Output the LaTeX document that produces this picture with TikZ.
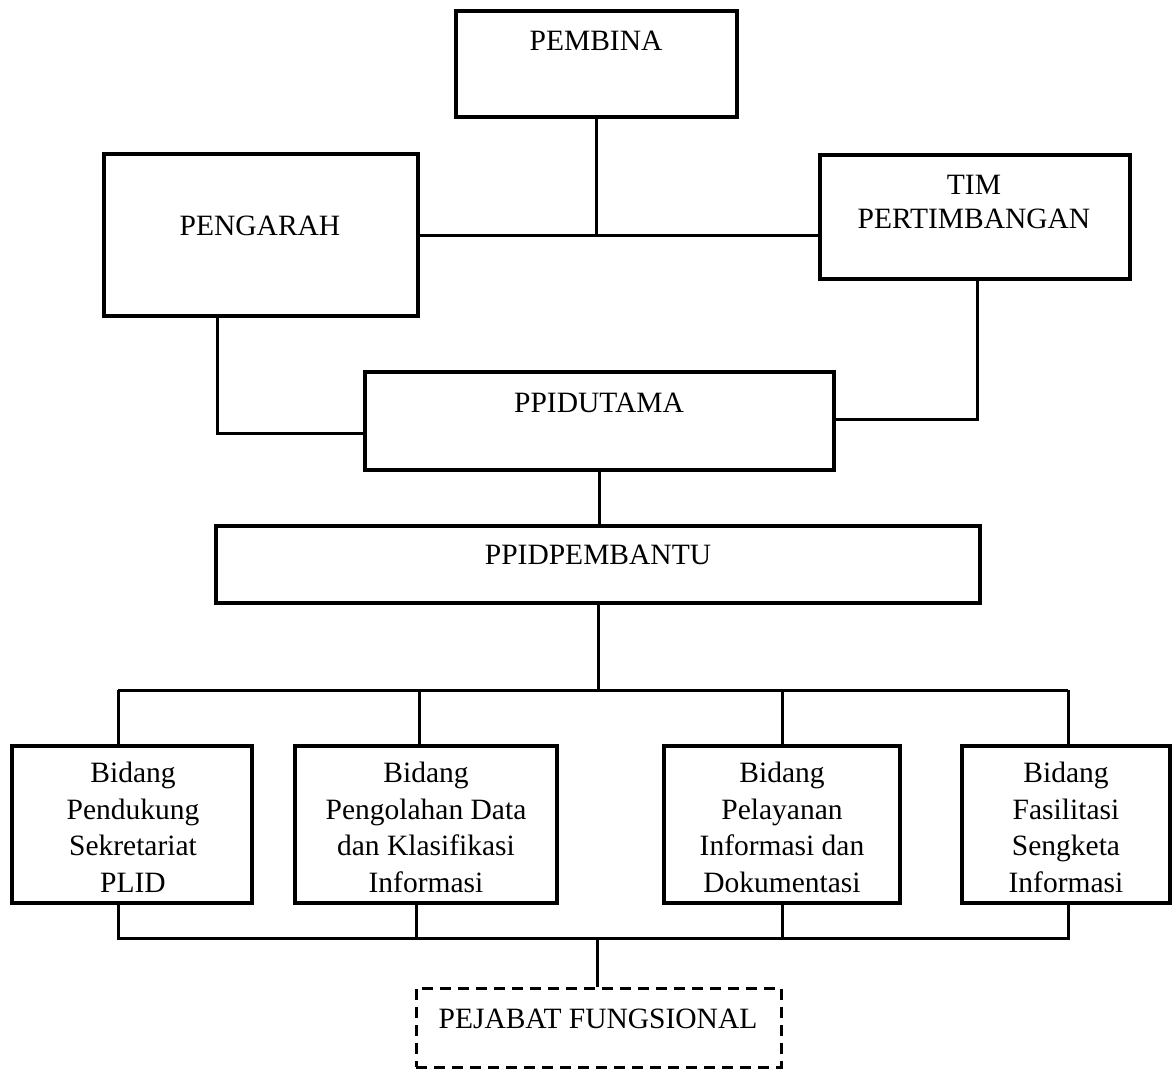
\documentclass[tikz,border=0pt]{standalone}
\usepackage{fontspec}
\setmainfont{Liberation Serif}
\begin{document}
\begin{tikzpicture}[x=1pt,y=-1pt,
  box/.style={draw,line width=3.4pt,rectangle,inner sep=0pt},
  dbox/.style={draw,line width=3pt,rectangle,inner sep=0pt,dash pattern=on 11pt off 7pt},
  txt/.style={anchor=base,inner sep=0pt,font=\fontsize{29.5}{36.5}\selectfont},
  mtxt/.style={anchor=north,inner sep=0pt,align=center,font=\fontsize{29.5}{36.5}\selectfont},
  conn/.style={line width=3pt}]
\useasboundingbox[fill=white] (0,0) rectangle (1176,1070);
% boxes
\node[box,minimum width=281pt,minimum height=106pt] (pembina) at (596.5,64) {};
\node[box,minimum width=314pt,minimum height=162pt] (pengarah) at (261,235) {};
\node[box,minimum width=310pt,minimum height=124pt] (tim) at (975,217) {};
\node[box,minimum width=469pt,minimum height=98pt] (utama) at (599.5,421) {};
\node[box,minimum width=764pt,minimum height=77pt] (pembantu) at (598,564.5) {};
\node[box,minimum width=240pt,minimum height=157pt] (b1) at (132,824.5) {};
\node[box,minimum width=262pt,minimum height=157pt] (b2) at (426,824.5) {};
\node[box,minimum width=236pt,minimum height=157pt] (b3) at (782,824.5) {};
\node[box,minimum width=208pt,minimum height=157pt] (b4) at (1066,824.5) {};
\node[dbox,minimum width=365pt,minimum height=79pt] (pejabat) at (598.5,1027.5) {};
% texts
\node[txt] (tpembina) at (596,51) {PEMBINA};
\node[txt] (tpengarah) at (260,235) {PENGARAH};
\node[txt] (ttim1) at (974,194) {TIM};
\node[txt] (ttim2) at (974,228) {PERTIMBANGAN};
\node[txt] (tutama) at (599,412) {PPIDUTAMA};
\node[txt] (tpembantu) at (598,564) {PPIDPEMBANTU};
\node[mtxt] (tb1) at (133,762) {Bidang\\Pendukung\\Sekretariat\\PLID};
\node[mtxt] (tb2) at (426,762) {Bidang\\Pengolahan Data\\dan Klasifikasi\\Informasi};
\node[mtxt] (tb3) at (782,762) {Bidang\\Pelayanan\\Informasi dan\\Dokumentasi};
\node[mtxt] (tb4) at (1066,762) {Bidang\\Fasilitasi\\Sengketa\\Informasi};
\node[txt] (tpejabat) at (598,1028) {PEJABAT FUNGSIONAL};
% connectors
\draw[conn] (pengarah.east) -- (pengarah.east -| tim.west);
\draw[conn] (pembina.south) -- (pembina.south |- pengarah.east);
\coordinate (c1) at (217,433);
\draw[conn] (pengarah.south -| c1) -- (c1) -- (c1 -| utama.west);
\coordinate (c2) at (977,419);
\draw[conn] (tim.south -| c2) -- (c2) -- (c2 -| utama.east);
\draw[conn] (utama.south) -- (utama.south |- pembantu.north);
\coordinate (hl) at (118,690);
\coordinate (hr) at (1068,690);
\draw[conn] (pembantu.south) -- (pembantu.south |- hl);
\draw[conn] (hl) -- (hr);
\coordinate (d2) at (419,690);
\coordinate (d3) at (782,690);
\draw[conn] (hl) -- (hl |- b1.north);
\draw[conn] (d2) -- (d2 |- b2.north);
\draw[conn] (d3) -- (d3 |- b3.north);
\draw[conn] (hr) -- (hr |- b4.north);
\coordinate (bl) at (118,938);
\coordinate (br) at (1068,938);
\coordinate (e2) at (416,938);
\coordinate (e3) at (782,938);
\draw[conn] (bl |- b1.south) -- (bl) -- (br) -- (br |- b4.south);
\draw[conn] (e2 |- b2.south) -- (e2);
\draw[conn] (e3 |- b3.south) -- (e3);
\draw[conn] (pejabat.north -| 597,0) -- (597,938);
\end{tikzpicture}
\end{document}
